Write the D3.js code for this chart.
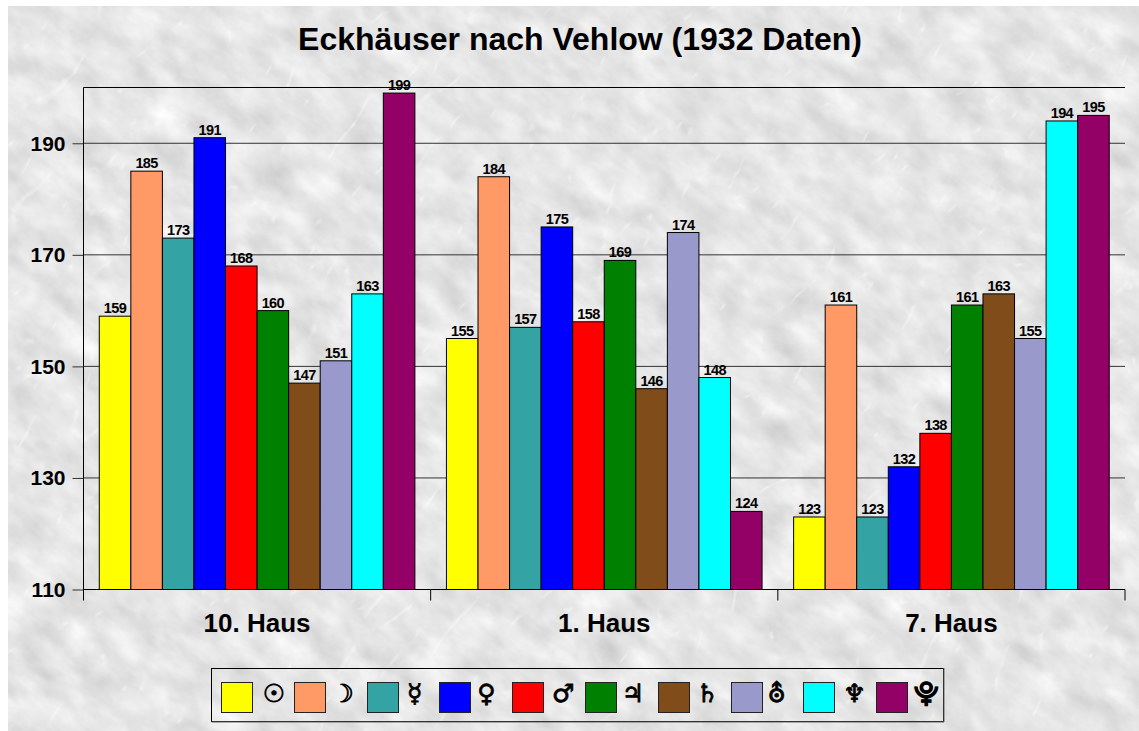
<!DOCTYPE html>
<html><head><meta charset="utf-8">
<style>html,body{margin:0;padding:0;background:#fff}svg{display:block}</style>
<script src="https://cdn.jsdelivr.net/npm/d3@7"></script></head><body><div id="c"></div>
<script>
const categories = ["10. Haus","1. Haus","7. Haus"];
const seriesNames = ["☉","☽","☿","♀","♂","♃","♄","⛢","♆","⯓"];
const seriesColors = ["#ffff00","#ff9966","#33a3a3","#0000ff","#ff0000","#008000","#804c1a","#9999cc","#00ffff","#930066"];
const haus10 = [159,185,173,191,168,160,147,151,163,199];
const haus1 = [155,184,157,175,158,169,146,174,148,124];
const haus7 = [123,161,123,132,138,161,163,155,194,195];
const allValues = [haus10,haus1,haus7];
const yTicks = [110,130,150,170,190];
const titleText = "Eckhäuser nach Vehlow (1932 Daten)";

const W=1139,H=731;
const svg=d3.select("#c").append("svg").attr("width",W).attr("height",H);
const defs=svg.append("defs");
defs.append("clipPath").attr("id","bgclip").append("rect").attr("x",8).attr("y",6).attr("width",W-8).attr("height",H-6);
const f=defs.append("filter").attr("id","marble").attr("x",0).attr("y",0).attr("width","100%").attr("height","100%")
 .attr("color-interpolation-filters","sRGB");
f.append("feTurbulence").attr("type","fractalNoise").attr("baseFrequency","0.025 0.04").attr("numOctaves",4).attr("seed",11).attr("result","n");
f.append("feColorMatrix").attr("in","n").attr("type","matrix")
 .attr("values","0.13 0.13 0 0 0.77  0.13 0.13 0 0 0.77  0.13 0.13 0 0 0.77  0 0 0 0 1").attr("result","base");
f.append("feTurbulence").attr("type","turbulence").attr("baseFrequency","0.02 0.009").attr("numOctaves",3).attr("seed",5).attr("result","t");
f.append("feColorMatrix").attr("in","t").attr("type","matrix")
 .attr("values","0 0 0 0 1  0 0 0 0 1  0 0 0 0 1  0 0 0 -6 0.5").attr("result","veins");
const m=f.append("feMerge");
m.append("feMergeNode").attr("in","base");
m.append("feMergeNode").attr("in","veins");

svg.append("g").attr("clip-path","url(#bgclip)").append("rect")
 .attr("x",-500).attr("y",-900).attr("width",2300).attr("height",2300)
 .attr("transform","rotate(40 570 365)").attr("filter","url(#marble)");

const left=83.5,right=1125,top_=87.5,bottom=589.5;
const x0=d3.scaleBand().domain(categories).range([left,right]);
const x1=d3.scaleBand().domain(seriesNames).range([0,x0.bandwidth()]).paddingOuter(0.5).paddingInner(0);
const y=d3.scaleLinear().domain([110,200]).range([bottom,top_]);

svg.append("g").selectAll("line").data(yTicks).join("line")
 .attr("x1",left).attr("x2",right).attr("y1",d=>y(d)).attr("y2",d=>y(d)).attr("stroke","#333").attr("stroke-width",1);
svg.append("line").attr("x1",left).attr("x2",right).attr("y1",top_).attr("y2",top_).attr("stroke","#000");

const font="'Liberation Sans',Arial,sans-serif";
const groups=svg.append("g").selectAll("g").data(categories).join("g").attr("transform",d=>`translate(${x0(d)},0)`);
groups.selectAll("rect").data((d,i)=>allValues[i].map((v,j)=>({v,s:seriesNames[j],c:seriesColors[j]}))).join("rect")
 .attr("x",d=>x1(d.s)).attr("width",x1.bandwidth()).attr("y",d=>y(d.v)).attr("height",d=>bottom-y(d.v))
 .attr("fill",d=>d.c).attr("stroke","#000").attr("stroke-width",1);
groups.selectAll("text").data((d,i)=>allValues[i].map((v,j)=>({v,s:seriesNames[j]}))).join("text")
 .attr("x",d=>x1(d.s)+x1.bandwidth()/2).attr("y",d=>y(d.v)-3).attr("text-anchor","middle")
 .attr("font-family",font).attr("font-size",14.5).attr("font-weight",700).attr("letter-spacing",-0.6).text(d=>d.v);

const yAxis=d3.axisLeft(y).tickValues(yTicks).tickSize(11).tickPadding(7);
const gy=svg.append("g").attr("transform",`translate(${left},0)`).call(yAxis);
gy.select(".domain").remove();
gy.append("line").attr("x1",0).attr("x2",0).attr("y1",top_).attr("y2",bottom+11).attr("stroke","#000");
gy.selectAll(".tick line").attr("stroke","#333");
gy.selectAll("text").attr("font-family",font).attr("font-size",21).attr("font-weight",700).attr("fill","#000");

svg.append("line").attr("x1",left).attr("x2",right).attr("y1",bottom).attr("y2",bottom).attr("stroke","#000");
svg.append("g").selectAll("line").data(categories).join("line")
 .attr("x1",d=>x0(d)+x0.step()).attr("x2",d=>x0(d)+x0.step()).attr("y1",bottom).attr("y2",bottom+11).attr("stroke","#000");
svg.append("g").selectAll("text").data(categories).join("text")
 .attr("x",d=>x0(d)+x0.bandwidth()/2).attr("y",632).attr("text-anchor","middle")
 .attr("font-family",font).attr("font-size",26).attr("font-weight",700).text(d=>d);

svg.append("text").attr("x",580).attr("y",50).attr("text-anchor","middle")
 .attr("font-family",font).attr("font-size",32).attr("font-weight",700).text(titleText);

const lg=svg.append("g");
lg.append("rect").attr("x",211.5).attr("y",668.5).attr("width",732).attr("height",53).attr("fill","none").attr("stroke","#000");
lg.append("path").attr("d","M211.5 722H944V668").attr("fill","none").attr("stroke","#666").attr("stroke-width",1);
const lx=d3.scaleBand().domain(seriesNames).range([221,221+72.8*10]);
const glyphDx=[3.5,-0.5,-1.5,-2.5,1.5,-1.5,0,-3.5,1.5,0];
const it=lg.selectAll("g").data(seriesNames).join("g");
it.append("rect").attr("x",d=>Math.round(lx(d))+.5).attr("y",682.5).attr("width",31).attr("height",30).attr("fill",(d,i)=>seriesColors[i]).attr("stroke","#222");
it.append("text").attr("x",(d,i)=>lx(d)+49.5+glyphDx[i]).attr("y",702).attr("text-anchor","middle")
 .attr("font-family","'DejaVu Sans',sans-serif").attr("font-size",25).attr("font-weight",700)
 .attr("stroke","#000").attr("stroke-width",0.8).text(d=>d);
</script></body></html>
